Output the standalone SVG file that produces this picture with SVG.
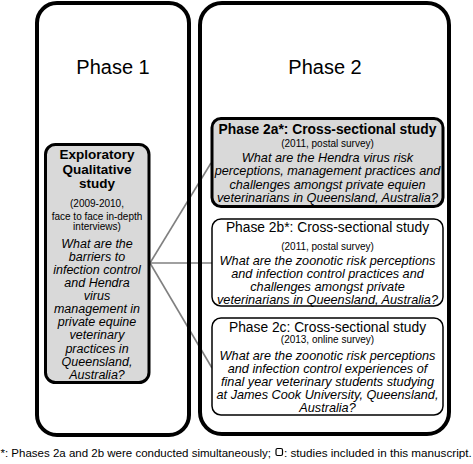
<svg xmlns="http://www.w3.org/2000/svg" width="473" height="464" viewBox="0 0 473 464">
<style>
text{font-family:"Liberation Sans",Arial,sans-serif;fill:#000;text-anchor:middle}
.title{font-size:20px}
.b{font-weight:bold}
.s{font-size:10px}
.i{font-style:italic}
.outer{fill:none;stroke:#000;stroke-width:4}
.gray{fill:#d9d9d9;stroke:#000;stroke-width:3}
.white{fill:#fff;stroke:#000;stroke-width:1.5}
.conn{stroke:#808080;stroke-width:1.6;fill:none}
</style>
<rect x="0" y="0" width="473" height="464" fill="#fff"/>
<g id="connectors">
<line class="conn" x1="150" y1="263" x2="211" y2="163"/>
<line class="conn" x1="150" y1="263" x2="212" y2="263"/>
<line class="conn" x1="150" y1="263" x2="212" y2="368"/>
</g>
<g id="phase1">
<rect class="outer" x="37" y="3" width="152" height="432" rx="20"/>
<text class="title" x="113" y="74">Phase 1</text>
</g>
<g id="phase2">
<rect class="outer" x="200" y="3" width="249" height="431" rx="22"/>
<text class="title" x="325" y="74">Phase 2</text>
</g>
<g id="phase1-study">
<rect class="gray" x="45.5" y="144.5" width="103.5" height="238" rx="10"/>
<text class="b" font-size="13.5" x="97" y="159">Exploratory</text>
<text class="b" font-size="13.5" x="97" y="173.5">Qualitative</text>
<text class="b" font-size="13.5" x="97" y="188">study</text>
<text class="s" x="97" y="206.5">(2009-2010,</text>
<text class="s" x="97" y="219.5">face to face in-depth</text>
<text class="s" x="97" y="229.5">interviews)</text>
<g class="i" font-size="12.5">
<text x="97" y="247.5">What are the</text>
<text x="97" y="260.5">barriers to</text>
<text x="97" y="273.5">infection control</text>
<text x="97" y="286.5">and Hendra</text>
<text x="97" y="299.5">virus</text>
<text x="97" y="312.5">management in</text>
<text x="97" y="326">private equine</text>
<text x="97" y="339">veterinary</text>
<text x="97" y="352.5">practices in</text>
<text x="97" y="366">Queensland,</text>
<text x="97" y="378.5">Australia?</text>
</g>
</g>
<g id="phase2a">
<rect class="gray" x="212" y="118.5" width="231" height="88" rx="9"/>
<text class="b" font-size="13.8" x="327.5" y="134">Phase 2a*: Cross-sectional study</text>
<text class="s" x="327.5" y="146.5">(2011, postal survey)</text>
<g class="i" font-size="12.7">
<text x="327.5" y="161.5">What are the Hendra virus risk</text>
<text x="327.5" y="175">perceptions, management practices and</text>
<text x="327.5" y="188.5">challenges amongst private equien</text>
<text x="327.5" y="201.5">veterinarians in Queensland, Australia?</text>
</g>
</g>
<g id="phase2b">
<rect class="white" x="212" y="219" width="231" height="87" rx="9"/>
<text font-size="13.8" x="327.5" y="232">Phase 2b*: Cross-sectional study</text>
<text class="s" x="327.5" y="249.5">(2011, postal survey)</text>
<g class="i" font-size="12.7">
<text x="327.5" y="265">What are the zoonotic risk perceptions</text>
<text x="327.5" y="278">and infection control practices and</text>
<text x="327.5" y="291">challenges amongst private</text>
<text x="327.5" y="303.5">veterinarians in Queensland, Australia?</text>
</g>
</g>
<g id="phase2c">
<rect class="white" x="212" y="318" width="231" height="97" rx="9"/>
<text font-size="13.8" x="327.5" y="332">Phase 2c: Cross-sectional study</text>
<text class="s" x="327.5" y="343">(2013, online survey)</text>
<g class="i" font-size="12.7">
<text x="327.5" y="359.5">What are the zoonotic risk perceptions</text>
<text x="327.5" y="372.5">and infection control experiences of</text>
<text x="327.5" y="385.5">final year veterinary students studying</text>
<text x="327.5" y="398.5">at James Cook University, Queensland,</text>
<text x="327.5" y="411.5">Australia?</text>
</g>
</g>
<g id="footer">
<text font-size="11.5" x="0.5" y="457" style="text-anchor:start">*: Phases 2a and 2b were conducted simultaneously;</text>
<rect x="276" y="448.5" width="6.5" height="7" rx="1.5" fill="none" stroke="#000" stroke-width="1.2"/>
<text font-size="11.7" x="284" y="457" style="text-anchor:start">: studies included in this manuscript.</text>
</g>
</svg>
